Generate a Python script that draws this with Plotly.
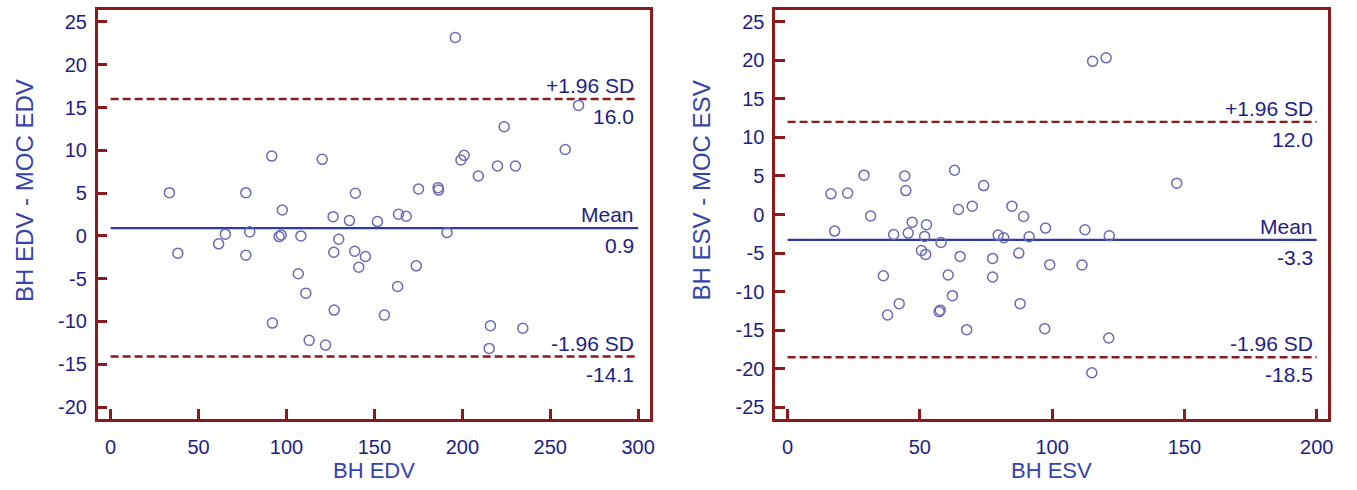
import plotly.graph_objects as go

# ---------------- data ----------------
edv_x = [33.4, 38.2, 61.4, 65.2, 76.9, 76.9, 79.1, 91.6, 92.0, 95.8, 97.0, 97.6,
         106.7, 108.2, 111.0, 112.9, 120.3, 122.2, 126.5, 126.9, 127.1, 129.7,
         135.8, 138.8, 139.2, 141.1, 144.9, 151.7, 155.7, 163.2, 163.7, 168.1,
         173.8, 175.1, 186.2, 186.5, 191.3, 196.0, 199.2, 201.0, 209.1, 215.3,
         216.0, 220.0, 223.8, 230.2, 234.4, 258.5, 266.1]
edv_diff = [5.05, -2.02, -0.93, 0.2, 5.05, -2.26, 0.47, 9.33, -10.19, -0.08, 0.1, 3.03,
            -4.43, 0.0, -6.69, -12.21, 8.95, -12.76, 2.25, -1.91, -8.67, -0.39,
            1.79, -1.79, 4.98, -3.66, -2.41, 1.67, -9.26, -5.91, 2.53, 2.3,
            -3.5, 5.48, 5.64, 5.35, 0.39, 23.2, 8.87, 9.41, 7.0, -13.15,
            -10.5, 8.17, 12.76, 8.17, -10.8, 10.1, 15.25]

esv_x = [16.4, 17.8, 22.7, 28.9, 31.4, 36.2, 37.8, 40.1, 42.2, 44.3, 44.7, 45.6,
         47.1, 50.6, 51.8, 52.2, 52.5, 57.3, 57.7, 58.0, 60.7, 62.3, 63.1, 64.6,
         65.2, 67.7, 69.8, 74.1, 77.5, 77.5, 79.6, 81.7, 84.8, 87.4, 87.9, 89.2,
         91.3, 97.2, 97.5, 99.1, 111.3, 112.4, 115.0, 115.3, 120.4, 121.4, 121.6, 147.1]
esv_diff = [2.68, -2.15, 2.77, 5.1, -0.2, -7.93, -13.02, -2.59, -11.55, 5.0, 3.1, -2.41,
            -0.99, -4.66, -2.84, -5.17, -1.33, -12.6, -12.4, -3.62, -7.84, -10.52, 5.74, 0.65,
            -5.43, -14.92, 1.08, 3.75, -5.69, -8.1, -2.67, -3.01, 1.08, -5.0, -11.55, -0.26,
            -2.88, -14.79, -1.76, -6.51, -6.55, -1.98, -20.5, 19.85, 20.3, -16.0, -2.76, 4.06]

edv_stats = {"mean": 0.9, "upper": 16.0, "lower": -14.1}
esv_stats = {"mean": -3.3, "upper": 12.0, "lower": -18.5}

edv_xticks = [0, 50, 100, 150, 200, 250, 300]
esv_xticks = [0, 50, 100, 150, 200]
edv_yticks = [-20, -15, -10, -5, 0, 5, 10, 15, 20, 25]
esv_yticks = [-25, -20, -15, -10, -5, 0, 5, 10, 15, 20, 25]

# ---------------- style ----------------
FONT = "Liberation Sans, Arial, sans-serif"
NAVY = "#1e1e86"
TITLE_BLUE = "#3443ad"
DARKRED = "#8b1a1a"
MEAN_BLUE = "#2b3aa8"
MARKER = "#6a6ab6"

fig = go.Figure()

panels = [
    dict(x=edv_x, y=edv_diff, st=edv_stats, xt=edv_xticks, xa="x", ya="y"),
    dict(x=esv_x, y=esv_diff, st=esv_stats, xt=esv_xticks, xa="x2", ya="y2"),
]

annotations = []
for p in panels:
    xs = [p["xt"][0], p["xt"][-1]]
    st = p["st"]
    for key in ("upper", "lower"):
        fig.add_trace(go.Scatter(x=xs, y=[st[key]] * 2, mode="lines", xaxis=p["xa"], yaxis=p["ya"],
                                 line=dict(color=DARKRED, width=2.4, dash="8px,4px"), showlegend=False,
                                 hoverinfo="skip"))
    fig.add_trace(go.Scatter(x=xs, y=[st["mean"]] * 2, mode="lines", xaxis=p["xa"], yaxis=p["ya"],
                             line=dict(color=MEAN_BLUE, width=2.2), showlegend=False, hoverinfo="skip"))
    fig.add_trace(go.Scatter(x=p["x"], y=p["y"], mode="markers", xaxis=p["xa"], yaxis=p["ya"],
                             marker=dict(symbol="circle-open", size=10, color=MARKER,
                                         line=dict(width=1.5, color=MARKER)),
                             showlegend=False))
    labels = [("+1.96 SD", "upper"), ("Mean", "mean"), ("-1.96 SD", "lower")]
    for lab, key in labels:
        annotations.append(dict(x=xs[1], y=st[key], xref=p["xa"], yref=p["ya"], text=lab,
                                showarrow=False, xanchor="right", yanchor="bottom", xshift=-2, yshift=0,
                                font=dict(family=FONT, size=21, color=NAVY)))
        annotations.append(dict(x=xs[1], y=st[key], xref=p["xa"], yref=p["ya"], text=f"{st[key]:.1f}",
                                showarrow=False, xanchor="right", yanchor="top", xshift=-2, yshift=-4,
                                font=dict(family=FONT, size=21, color=NAVY)))

W, H = 1357, 490
dom_y = [1 - 419 / H, 1 - 10 / H]
dom_x1 = [98 / W, 652 / W]
dom_x2 = [778 / W, 1333 / W]

# axis titles
annotations += [
    dict(x=(dom_x1[0] + dom_x1[1]) / 2, y=1 - 470 / H, xref="paper", yref="paper", text="BH EDV",
         showarrow=False, font=dict(family=FONT, size=22, color=TITLE_BLUE), xanchor="center", yanchor="middle"),
    dict(x=(dom_x2[0] + dom_x2[1]) / 2, y=1 - 470 / H, xref="paper", yref="paper", text="BH ESV",
         showarrow=False, font=dict(family=FONT, size=22, color=TITLE_BLUE), xanchor="center", yanchor="middle"),
    dict(x=24 / W, y=1 - 190 / H, xref="paper", yref="paper", text="BH EDV - MOC EDV", textangle=-90,
         showarrow=False, font=dict(family=FONT, size=24, color=TITLE_BLUE), xanchor="center", yanchor="middle"),
    dict(x=704 / W, y=1 - 190 / H, xref="paper", yref="paper", text="BH ESV - MOC ESV", textangle=-90,
         showarrow=False, font=dict(family=FONT, size=24, color=TITLE_BLUE), xanchor="center", yanchor="middle"),
]

axis_common = dict(showgrid=False, zeroline=False, showline=True, linecolor=DARKRED, linewidth=2.5,
                   mirror=True, ticks="inside", ticklen=10, tickwidth=2.5, tickcolor=DARKRED,
                   tickfont=dict(family=FONT, size=20, color=NAVY), fixedrange=True)


def labels_of(vals):
    return [str(v) for v in vals]


fig.update_layout(
    width=W, height=H,
    margin=dict(l=0, r=0, t=0, b=0),
    paper_bgcolor="white", plot_bgcolor="white",
    xaxis=dict(domain=dom_x1, range=[-7.4, 306.5], tickvals=edv_xticks, ticktext=labels_of(edv_xticks),
               anchor="y", ticklabelstandoff=8, **axis_common),
    yaxis=dict(domain=dom_y, range=[-21.4, 26.4], tickvals=edv_yticks, ticktext=labels_of(edv_yticks),
               anchor="x", ticklabelstandoff=4, **axis_common),
    xaxis2=dict(domain=dom_x2, range=[-4.7, 204.3], tickvals=esv_xticks, ticktext=labels_of(esv_xticks),
                anchor="y2", ticklabelstandoff=8, **axis_common),
    yaxis2=dict(domain=dom_y, range=[-26.5, 26.5], tickvals=esv_yticks, ticktext=labels_of(esv_yticks),
                anchor="x2", ticklabelstandoff=4, **axis_common),
    annotations=annotations,
    showlegend=False,
)

fig.write_html("out.html", config={"displayModeBar": False},
               post_script="document.body.style.margin='0';document.body.style.padding='0';")
